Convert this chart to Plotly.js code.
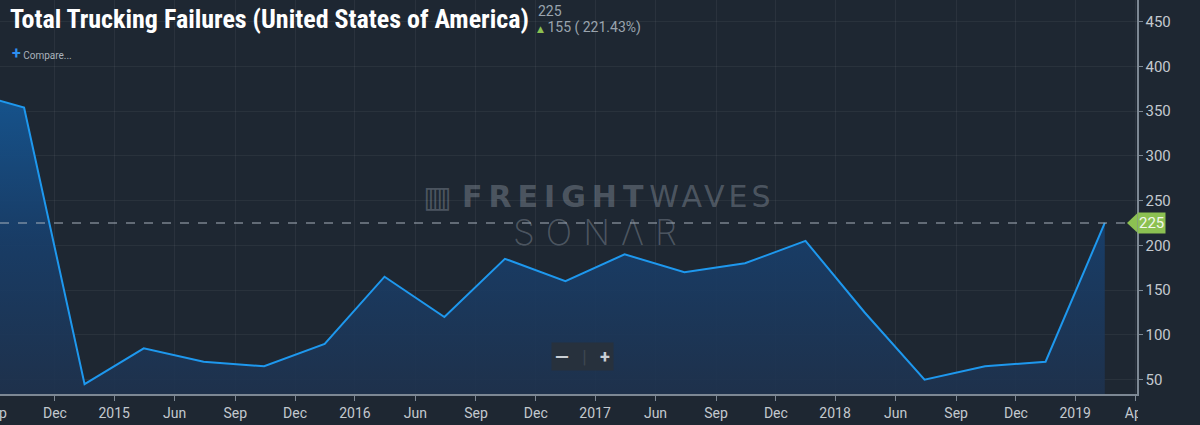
<!DOCTYPE html>
<html>
<head>
<meta charset="utf-8">
<script src="https://cdn.plot.ly/plotly-3.0.1.min.js"></script>
<style>
  html, body { margin:0; padding:0; background:#1f2833; overflow:hidden; width:1200px; height:425px; }
  #chart { position:absolute; left:-20px; top:0; width:1220px; height:425px; }
</style>
</head>
<body>
<div id="chart"></div>
<script>
// ---- data (quarterly) ----
const dates = ['2014-07-15','2014-10-15','2015-01-15','2015-04-15','2015-07-15','2015-10-15',
               '2016-01-15','2016-04-15','2016-07-15','2016-10-15','2017-01-15','2017-04-15',
               '2017-07-15','2017-10-15','2018-01-15','2018-04-15','2018-07-15','2018-10-15',
               '2019-01-15','2019-04-15'];
const failures = [373, 354, 45, 85, 70, 65, 90, 165, 120, 185, 160, 190, 170, 180, 205, 125, 50, 65, 70, 225];

const xTickVals = ['2014-09-01','2014-12-01','2015-03-01','2015-06-01','2015-09-01','2015-12-01',
                   '2016-03-01','2016-06-01','2016-09-01','2016-12-01','2017-03-01','2017-06-01',
                   '2017-09-01','2017-12-01','2018-03-01','2018-06-01','2018-09-01','2018-12-01',
                   '2019-03-01','2019-06-01'];
const xTickText = ['Sep','Dec','2015','Jun','Sep','Dec','2016','Jun','Sep','Dec','2017','Jun',
                   'Sep','Dec','2018','Jun','Sep','Dec','2019','Apr'];
const yTickVals = [50,100,150,200,250,300,350,400,450];

const titleText = 'Total Trucking Failures (United States of America)';
const lastValue = failures[failures.length - 1];
const prevValue = failures[failures.length - 2];
const change = lastValue - prevValue;
const changePct = (change / prevValue * 100).toFixed(2);

// ---- layout helpers (page pixel -> paper fraction) ----
const W = 1220, H = 425, ML = 0, MR = 63, MT = 0, MB = 31, OFF = 20;
const plotW = W - ML - MR, plotH = H - MT - MB;
const px = x => (x + OFF - ML) / plotW;
const py = y => (H - MB - y) / plotH;

const bg = '#1e2732';
const axisCol = '#7d8894';
const textCol = '#c3c9cf';
const green = '#8cc152';
const wm = 'rgba(150,160,172,0.40)';

const trace = {
  x: dates, y: failures, type: 'scatter', mode: 'lines',
  line: {color: '#1e98ee', width: 2},
  fill: 'tozeroy',
  fillgradient: {type: 'vertical', start: 34, stop: 380,
    colorscale: [[0, 'rgba(30,50,78,0.9)'], [0.5, 'rgba(24,62,106,0.92)'], [1, 'rgba(21,86,146,0.97)']]},
  hoverinfo: 'skip'
};

const layout = {
  width: W, height: H,
  margin: {l: ML, r: MR, t: MT, b: MB, pad: 0},
  paper_bgcolor: bg, plot_bgcolor: bg,
  showlegend: false,
  font: {family: 'Roboto, "Noto Sans", sans-serif', color: textCol},
  xaxis: {
    type: 'date', range: ['2014-08-09', '2019-06-03'],
    tickmode: 'array', tickvals: xTickVals, ticktext: xTickText,
    ticks: 'outside', ticklen: 5, tickcolor: axisCol, tickwidth: 1,
    showline: true, linecolor: axisCol, linewidth: 2,
    showgrid: true, gridcolor: 'rgba(255,255,255,0.055)', gridwidth: 1,
    zeroline: false,
    tickfont: {size: 14, color: textCol, family: 'Roboto, sans-serif'}
  },
  yaxis: {
    side: 'right', range: [34, 474],
    tickmode: 'array', tickvals: yTickVals,
    ticks: 'outside', ticklen: 4, tickcolor: axisCol, tickwidth: 1,
    showline: true, linecolor: axisCol, linewidth: 1.5,
    showgrid: true, gridcolor: 'rgba(255,255,255,0.05)', gridwidth: 1,
    zeroline: false,
    tickfont: {size: 15, color: textCol, family: 'Roboto, sans-serif'}
  },
  shapes: [
    {type: 'line', xref: 'paper', yref: 'y', x0: px(0), x1: px(1128), y0: lastValue, y1: lastValue,
     line: {color: 'rgba(170,180,190,0.65)', width: 1.5, dash: 'dash'}, layer: 'above'},
    {type: 'path', xref: 'paper', yref: 'y',
     path: `M ${px(1127)} ${lastValue} L ${px(1137)} ${lastValue + 10.5} L ${px(1137)} ${lastValue - 10.5} Z`,
     fillcolor: green, line: {width: 0}, layer: 'above'},
    {type: 'rect', xref: 'paper', yref: 'paper', x0: px(1138), x1: px(1200), y0: py(425), y1: py(398),
     fillcolor: bg, line: {width: 0}, layer: 'above'}
  ],
  annotations: [
    {xref: 'paper', yref: 'paper', x: px(8), y: py(19), xanchor: 'left', yanchor: 'middle',
     text: '<b>' + titleText + '</b>', showarrow: false,
     font: {family: '"Roboto Condensed", "DejaVu Sans Condensed", "Liberation Sans Narrow", Roboto, sans-serif', size: 26, color: '#ffffff'}},
    {xref: 'paper', yref: 'paper', x: px(536), y: py(11), xanchor: 'left', yanchor: 'middle',
     text: String(lastValue), showarrow: false,
     font: {family: 'Roboto, sans-serif', size: 14, color: '#9aa4ae'}},
    {xref: 'paper', yref: 'paper', x: px(535), y: py(28), xanchor: 'left', yanchor: 'middle',
     text: '<span style="color:' + green + ';font-size:9px">▲</span> ' + change + ' ( ' + changePct + '%)', showarrow: false,
     font: {family: 'Roboto, "DejaVu Sans", sans-serif', size: 14, color: '#9aa4ae'}},
    {xref: 'paper', yref: 'paper', x: px(10), y: py(53), xanchor: 'left', yanchor: 'middle',
     text: '<span style="color:#2d8ff0;font-size:16px"><b>+</b></span> Compare...', showarrow: false,
     font: {family: 'Roboto, sans-serif', size: 10, color: '#aab3bc'}},
    // watermark
    {xref: 'paper', yref: 'paper', x: px(599), y: py(196), xanchor: 'center', yanchor: 'middle',
     text: '<span style="letter-spacing:1px">▥</span> <b><span style="letter-spacing:6px">FREIGHT</span></b><span style="letter-spacing:4px">WAVES</span>', showarrow: false,
     font: {family: '"DejaVu Sans", sans-serif', size: 30, color: wm}},
    {xref: 'paper', yref: 'paper', x: px(600), y: py(232), xanchor: 'center', yanchor: 'middle',
     text: '<span style="letter-spacing:11px">SONΛR</span>', showarrow: false,
     font: {family: 'Inter, "DejaVu Sans", sans-serif', size: 35, weight: 200, color: wm}},
    // zoom buttons
    {xref: 'paper', yref: 'paper', x: px(582), y: py(356), xanchor: 'center', yanchor: 'middle',
     text: '<b>—</b>   <span style="color:rgba(200,210,220,0.15)">|</span>   <b>+</b>', showarrow: false,
     bgcolor: 'rgba(40,49,60,0.95)', borderpad: 3,
     font: {family: 'Roboto, sans-serif', size: 18, color: '#c9cfd5'}},
    // current value tag
    {xref: 'paper', yref: 'y', x: px(1137), y: lastValue, xanchor: 'left', yanchor: 'middle',
     text: String(lastValue), showarrow: false, bgcolor: green, borderpad: 1,
     font: {family: 'Roboto, sans-serif', size: 15, color: '#f2f8ec'}}
  ]
};

Plotly.newPlot('chart', [trace], layout, {staticPlot: true, displayModeBar: false});
</script>
</body>
</html>
